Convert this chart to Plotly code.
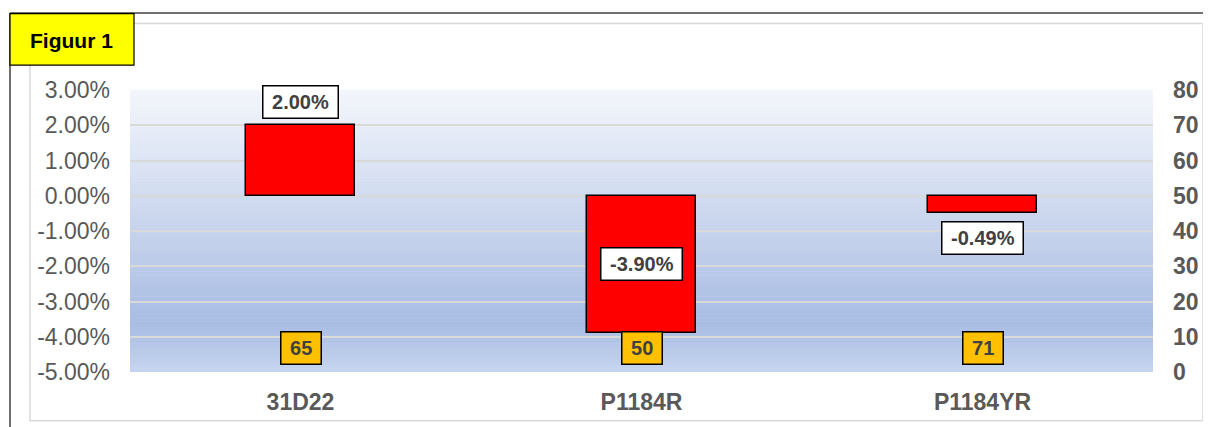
import plotly.graph_objects as go

# data
categories = ["31D22", "P1184R", "P1184YR"]
change_pct = [2.00, -3.90, -0.49]      # left axis, percent
counts = [65, 50, 71]                  # right axis
label_pos = ["above", "middle", "below"]

left_ticks = [3, 2, 1, 0, -1, -2, -3, -4, -5]
right_ticks = [80, 70, 60, 50, 40, 30, 20, 10, 0]

# page is offset by the body's default 8px margin
OFF = 8
W, H = 1211 - OFF, 427 - OFF
L, R, T, B = 130 - OFF, 58, 90 - OFF, 53
PW, PH = W - L - R, H - T - B


# page pixel -> paper coords
def px_x(x):
    return (x - OFF - L) / PW


def px_y(y):
    return (H - B - (y - OFF)) / PH


fig = go.Figure()

fig.add_trace(go.Bar(
    x=categories,
    y=[v / 100 for v in change_pct],
    width=0.32,
    marker=dict(color="#ff0000", line=dict(color="#000000", width=1.5)),
    hoverinfo="skip",
))

# invisible trace so the right axis exists
fig.add_trace(go.Scatter(
    x=categories, y=counts, yaxis="y2", mode="markers",
    marker=dict(opacity=0), hoverinfo="skip", showlegend=False,
))

# background gradient (Excel style) as thin strips
stops = [(0.0, (244, 246, 251)), (0.83, (168, 188, 227)), (1.0, (198, 212, 238))]


def grad(t):
    for (t0, c0), (t1, c1) in zip(stops[:-1], stops[1:]):
        if t0 <= t <= t1:
            f = (t - t0) / (t1 - t0)
            return "rgb(%d,%d,%d)" % tuple(round(a + (b - a) * f) for a, b in zip(c0, c1))
    return "rgb(%d,%d,%d)" % stops[-1][1]


n = 90
shapes = []
for i in range(n):
    t = (i + 0.5) / n
    shapes.append(dict(
        type="rect", xref="x domain", yref="y domain",
        x0=0, x1=1, y0=1 - (i + 1) / n, y1=1 - i / n + 0.002,
        fillcolor=grad(t), line=dict(width=0), layer="below",
    ))

# inner chart border
shapes.append(dict(type="rect", xref="paper", yref="paper",
                   x0=px_x(30), x1=px_x(1203), y0=px_y(423), y1=px_y(23),
                   line=dict(color="#d9d9d9", width=1.5), layer="below"))
# outer dark frame (top and left)
shapes.append(dict(type="line", xref="paper", yref="paper",
                   x0=px_x(10), x1=px_x(1215), y0=px_y(12.5), y1=px_y(12.5),
                   line=dict(color="#404040", width=1.5)))
shapes.append(dict(type="line", xref="paper", yref="paper",
                   x0=px_x(10), x1=px_x(10), y0=px_y(430), y1=px_y(12.5),
                   line=dict(color="#404040", width=1.5)))
# "Figuur 1" box
shapes.append(dict(type="rect", xref="paper", yref="paper",
                   x0=px_x(10), x1=px_x(134), y0=px_y(65), y1=px_y(13),
                   fillcolor="#ffff00", line=dict(color="#000000", width=1.2)))

annotations = [dict(
    text="<b>Figuur 1</b>", xref="paper", yref="paper",
    x=px_x(71), y=px_y(40), xanchor="center", yanchor="middle", showarrow=False,
    font=dict(family="Liberation Sans", size=21, color="#000000"),
)]

nb = "\u00a0"
label_font = dict(family="Liberation Sans", size=20, color="#404040")
for cat, v, pos in zip(categories, change_pct, label_pos):
    a = dict(x=cat, xref="x", yref="y", showarrow=False,
             text="<b>" + nb + "%.2f%%" % v + nb + "</b>",
             font=label_font, bgcolor="#ffffff", height=25,
             bordercolor="#000000", borderwidth=1.5, borderpad=3)
    if pos == "above":
        a.update(y=v / 100, yanchor="bottom", yshift=6)
    elif pos == "below":
        a.update(y=v / 100, yanchor="top", yshift=-8)
    else:
        a.update(y=v / 200, yanchor="middle")
    annotations.append(a)

for cat, c in zip(categories, counts):
    annotations.append(dict(
        x=cat, y=0, xref="x", yref="y2", yanchor="bottom", yshift=7,
        showarrow=False, text="<b>" + nb + str(c) + nb + "</b>",
        font=label_font, bgcolor="#ffc000", height=25,
        bordercolor="#000000", borderwidth=1.5, borderpad=3,
    ))

fig.update_layout(
    width=W, height=H,
    margin=dict(l=L, r=R, t=T, b=B),
    paper_bgcolor="#ffffff",
    plot_bgcolor="rgba(0,0,0,0)",
    showlegend=False,
    bargap=0,
    shapes=shapes,
    annotations=annotations,
    font=dict(family="Liberation Sans"),
    xaxis=dict(
        showgrid=False, showline=False, zeroline=False,
        tickfont=dict(size=23, color="#595959", family="Liberation Sans"),
        tickprefix="<b>", ticksuffix="</b>",
        ticklabelstandoff=14,
    ),
    yaxis=dict(
        range=[-0.05, 0.03],
        tickvals=[t / 100 for t in left_ticks],
        ticktext=["%.2f%%" % t for t in left_ticks],
        showgrid=True, gridcolor="#d9d9d9", gridwidth=2,
        zeroline=True, zerolinecolor="#d9d9d9", zerolinewidth=2,
        showline=False,
        tickfont=dict(size=23, color="#595959", family="Liberation Sans"),
        ticklabelstandoff=19,
    ),
    yaxis2=dict(
        range=[0, 80], overlaying="y", side="right",
        tickvals=right_ticks,
        ticktext=["<b>%d</b>" % t for t in right_ticks],
        showgrid=False, zeroline=False, showline=False,
        tickfont=dict(size=23, color="#595959", family="Liberation Sans"),
        ticklabelstandoff=19,
    ),
)

fig.write_html("out.html")
